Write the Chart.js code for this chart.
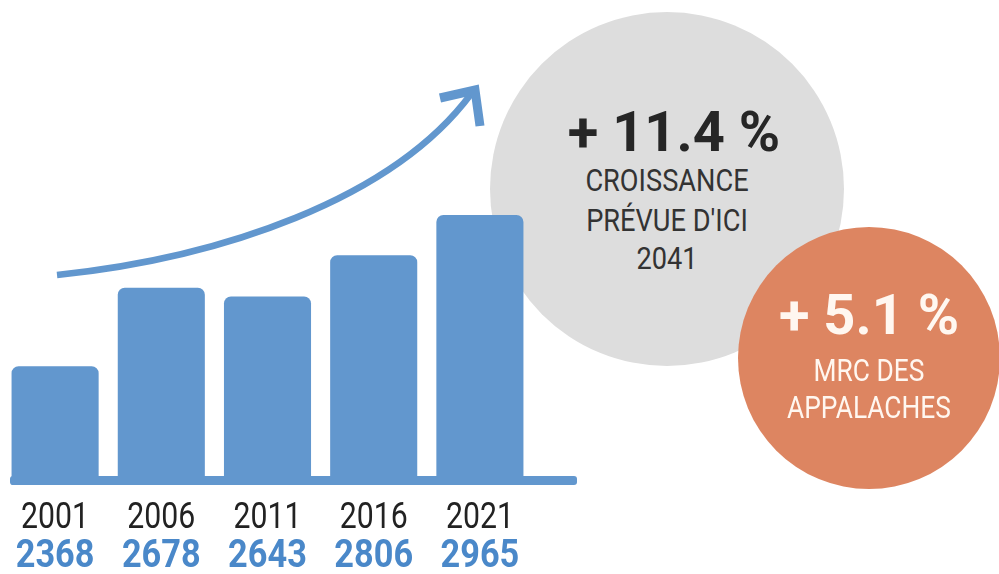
<!DOCTYPE html>
<html lang="fr">
<head>
<meta charset="utf-8">
<title>Croissance de la population</title>
<script src="https://cdn.jsdelivr.net/npm/chart.js@4.4.3/dist/chart.umd.min.js"></script>
<style>
    html, body { margin: 0; padding: 0; background: #fff; }
    #page { position: relative; width: 999px; height: 574px; overflow: hidden; }
    #chart-wrap { position: absolute; left: 0; top: 0; width: 999px; height: 574px; z-index: 1; }
    .bubble { position: absolute; border-radius: 50%; }
    #bubble-grey { left: 490px; top: 12px; width: 354px; height: 354px; background: #dddddd; z-index: 0; }
    #bubble-orange { left: 738px; top: 227px; width: 262px; height: 262px; background: #dd8561; z-index: 2; }
    .line { position: absolute; text-align: center; line-height: 1; white-space: nowrap; font-family: Roboto, 'DejaVu Sans', sans-serif; }
    .big { font-weight: bold; font-size: 56px; }
    .small { font-size: 32px; transform: scaleX(0.85); }
    .grey-line { left: 490px; width: 354px; color: #333; z-index: 0; }
    .orange-line { left: 738px; width: 262px; color: #fff7f0; z-index: 3; }
</style>
</head>
<body>
<div id="page">
    <div class="bubble" id="bubble-grey"></div>
    <div class="line grey-line big" style="top:104px; left:497px; color:#262626;">+ 11.4 %</div>
    <div class="line grey-line small" style="top:164px;">CROISSANCE</div>
    <div class="line grey-line small" style="top:204px;">PRÉVUE D'ICI</div>
    <div class="line grey-line small" style="top:242px;">2041</div>

    <div id="chart-wrap"><canvas id="pop-chart"></canvas></div>

    <div class="bubble" id="bubble-orange"></div>
    <div class="line orange-line big" style="top:287px;">+ 5.1 %</div>
    <div class="line orange-line small" style="top:355px; font-size:31px;">MRC DES</div>
    <div class="line orange-line small" style="top:392px; font-size:31px;">APPALACHES</div>
</div>

<script>
// chart values

const years = ["2001", "2006", "2011", "2016", "2021"];
const population = [2368, 2678, 2643, 2806, 2965];
const axisMin = 1900;
const axisMax = 3000;

const barColor = "#6297ce";
const valueColor = "#4a88c9";
const yearColor = "#222222";

// draws the base line and the rising arrow behind the bars
const decorPlugin = {
    id: "decor",
    beforeDatasetsDraw(chart) {
        const ctx = chart.ctx;
        ctx.save();
        ctx.strokeStyle = barColor;
        ctx.lineWidth = 6.5;
        ctx.lineCap = "butt";
        ctx.beginPath();
        ctx.moveTo(57, 275);
        ctx.bezierCurveTo(220, 258, 392, 200, 471, 94);
        ctx.stroke();
        // arrow head
        ctx.lineWidth = 9;
        ctx.lineJoin = "miter";
        ctx.beginPath();
        ctx.moveTo(440, 98);
        ctx.lineTo(475, 90);
        ctx.lineTo(480, 126);
        ctx.stroke();
        ctx.restore();
    },
    afterDatasetsDraw(chart) {
        const ctx = chart.ctx;
        const area = chart.chartArea;
        ctx.save();
        ctx.fillStyle = barColor;
        ctx.beginPath();
        ctx.roundRect(area.left + 8, area.bottom - 9, 577 - area.left - 8, 9, 3);
        ctx.fill();
        ctx.restore();
    },
};

// narrow text: no condensed face installed, so squeeze horizontally
function drawNarrowText(ctx, text, x, y, squeeze) {
    ctx.save();
    ctx.translate(x, y);
    ctx.scale(squeeze, 1);
    ctx.fillText(text, 0, 0);
    ctx.restore();
}

// year and value under each bar
const labelPlugin = {
    id: "labels",
    afterDraw(chart) {
        const ctx = chart.ctx;
        const xScale = chart.scales.x;
        ctx.save();
        ctx.textAlign = "center";
        ctx.textBaseline = "alphabetic";
        years.forEach((year, i) => {
            const x = xScale.getPixelForValue(i);
            ctx.fillStyle = yearColor;
            ctx.font = "36px Roboto, 'DejaVu Sans', sans-serif";
            drawNarrowText(ctx, year, x, 528, 0.84);
            ctx.fillStyle = valueColor;
            ctx.font = "bold 39px Roboto, 'DejaVu Sans', sans-serif";
            drawNarrowText(ctx, String(population[i]), x, 567, 0.88);
        });
        ctx.restore();
    },
};

function main() {
    const ctx = document.getElementById("pop-chart");
    new Chart(ctx, {
        type: "bar",
        data: {
            labels: years,
            datasets: [{
                label: "Population",
                data: population,
                backgroundColor: barColor,
                borderRadius: { topLeft: 7, topRight: 7, bottomLeft: 0, bottomRight: 0 },
                borderSkipped: "bottom",
                barPercentage: 0.82,
                categoryPercentage: 1,
            }],
        },
        options: {
            responsive: true,
            maintainAspectRatio: false,
            animation: false,
            layout: {
                padding: { left: 2, right: 466, top: 206, bottom: 89 },
            },
            scales: {
                x: { display: false },
                y: { display: false, min: axisMin, max: axisMax },
            },
            plugins: {
                legend: { display: false },
                tooltip: { enabled: false },
            },
        },
        plugins: [decorPlugin, labelPlugin],
    });
}

main();
</script>
</body>
</html>
